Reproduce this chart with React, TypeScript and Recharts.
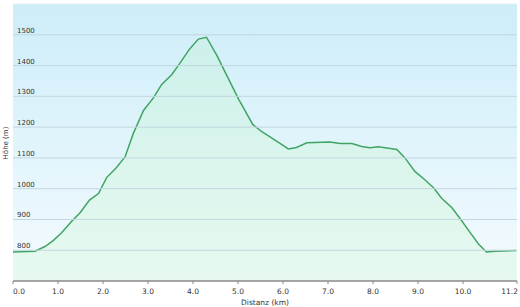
import React from 'react';
import { AreaChart, Area, XAxis, YAxis, CartesianGrid, ReferenceLine } from 'recharts';

const distanceKm = [0, 0.49, 0.71, 0.9, 1.08, 1.3, 1.49, 1.7, 1.9, 2.08, 2.29, 2.49, 2.67, 2.9, 3.12, 3.3, 3.53, 3.71, 3.93, 4.12, 4.3, 4.53, 4.75, 5.01, 5.33, 5.53, 5.78, 6.12, 6.3, 6.53, 7.04, 7.27, 7.53, 7.75, 7.93, 8.12, 8.53, 8.71, 8.93, 9.12, 9.34, 9.53, 9.75, 9.93, 10.16, 10.34, 10.52, 10.71, 11.19];
const elevationM = [794, 797, 812, 832, 857, 893, 922, 963, 984, 1036, 1067, 1103, 1178, 1254, 1295, 1338, 1371, 1408, 1455, 1486, 1492, 1433, 1368, 1292, 1208, 1185, 1162, 1129, 1134, 1149, 1152, 1147, 1147, 1137, 1133, 1136, 1127, 1100, 1056, 1033, 1004, 968, 939, 904, 857, 821, 794, 797, 799];
const xTicks = [0, 1, 2, 3, 4, 5, 6, 7, 8, 9, 10, 11.2];
const yTicks = [800, 900, 1000, 1100, 1200, 1300, 1400, 1500];

const data = distanceKm.map((d, i) => ({ d, h: elevationM[i] }));

const FONT = '"DejaVu Sans", Verdana, sans-serif';

const XTick = (props: any) => {
  const { x, y, payload } = props;
  const v = payload.value;
  let anchor: 'start' | 'middle' | 'end' = 'middle';
  let dx = 0;
  if (v === 0) { anchor = 'start'; dx = 0; }
  if (v === 11.2) { anchor = 'end'; dx = 1; }
  return (
    <text x={x + dx} y={y + 8} textAnchor={anchor} fontSize={7.5} fill="#333" fontFamily={FONT}>
      {v.toFixed(1)}
    </text>
  );
};

const makeYLabel = (value: number) => (p: any) => {
  const vb = p.viewBox || {};
  return (
    <text x={(vb.x ?? 13) + 4} y={(vb.y ?? 0) - 2} textAnchor="start" fontSize={7} fill="#333" fontFamily={FONT}>
      {value}
    </text>
  );
};

export default function App() {
  return (
    <div style={{ position: 'absolute', left: 0, top: 0, width: 520, height: 307, background: '#fff' }}>
      <AreaChart width={520} height={307} data={data} margin={{ top: 4, right: 3, bottom: 0, left: 13 }}>
        <defs>
          <linearGradient id="bg" x1="0" y1="0" x2="0" y2="1">
            <stop offset="0%" stopColor="#cdedf9" />
            <stop offset="100%" stopColor="#f4fbfe" />
          </linearGradient>
          <linearGradient id="areaFill" x1="0" y1="0" x2="0" y2="1">
            <stop offset="0%" stopColor="#c6f2da" stopOpacity={0.45} />
            <stop offset="100%" stopColor="#e0f8e7" stopOpacity={0.65} />
          </linearGradient>
        </defs>
        <CartesianGrid vertical={false} horizontal={false} fill="url(#bg)" />
        <Area
          type="linear"
          dataKey="h"
          stroke="#40a562"
          strokeWidth={1.5}
          fill="url(#areaFill)"
          fillOpacity={1}
          isAnimationActive={false}
          dot={false}
          activeDot={false}
        />
        <ReferenceLine y={1600} stroke="#e6edf0" strokeWidth={1} />
        {yTicks.map((v) => (
          <ReferenceLine key={v} y={v} stroke="#c3d6df" strokeWidth={1} label={{ content: makeYLabel(v) }} />
        ))}
        <XAxis
          type="number"
          dataKey="d"
          domain={[0, 11.2]}
          ticks={xTicks}
          interval={0}
          axisLine={{ stroke: '#8a8a8a', strokeWidth: 1.5 }}
          tickLine={{ stroke: '#8a8a8a' }}
          tickSize={3}
          tick={<XTick />}
          height={26}
          label={{ value: 'Distanz  (km)', position: 'insideBottom', offset: 2, fontSize: 7.5, fill: '#333', fontFamily: FONT, style: { whiteSpace: 'pre' } }}
        />
        <YAxis
          type="number"
          domain={[700, 1600]}
          ticks={yTicks}
          interval={0}
          width={0}
          axisLine={{ stroke: '#8a8a8a', strokeWidth: 2 }}
          tickLine={false}
          tick={false}
        />
        <text x={8} y={143} transform="rotate(-90 8 143)" textAnchor="middle" fontSize={7} fill="#333" fontFamily={FONT}>
          Höhe (m)
        </text>
      </AreaChart>
    </div>
  );
}
